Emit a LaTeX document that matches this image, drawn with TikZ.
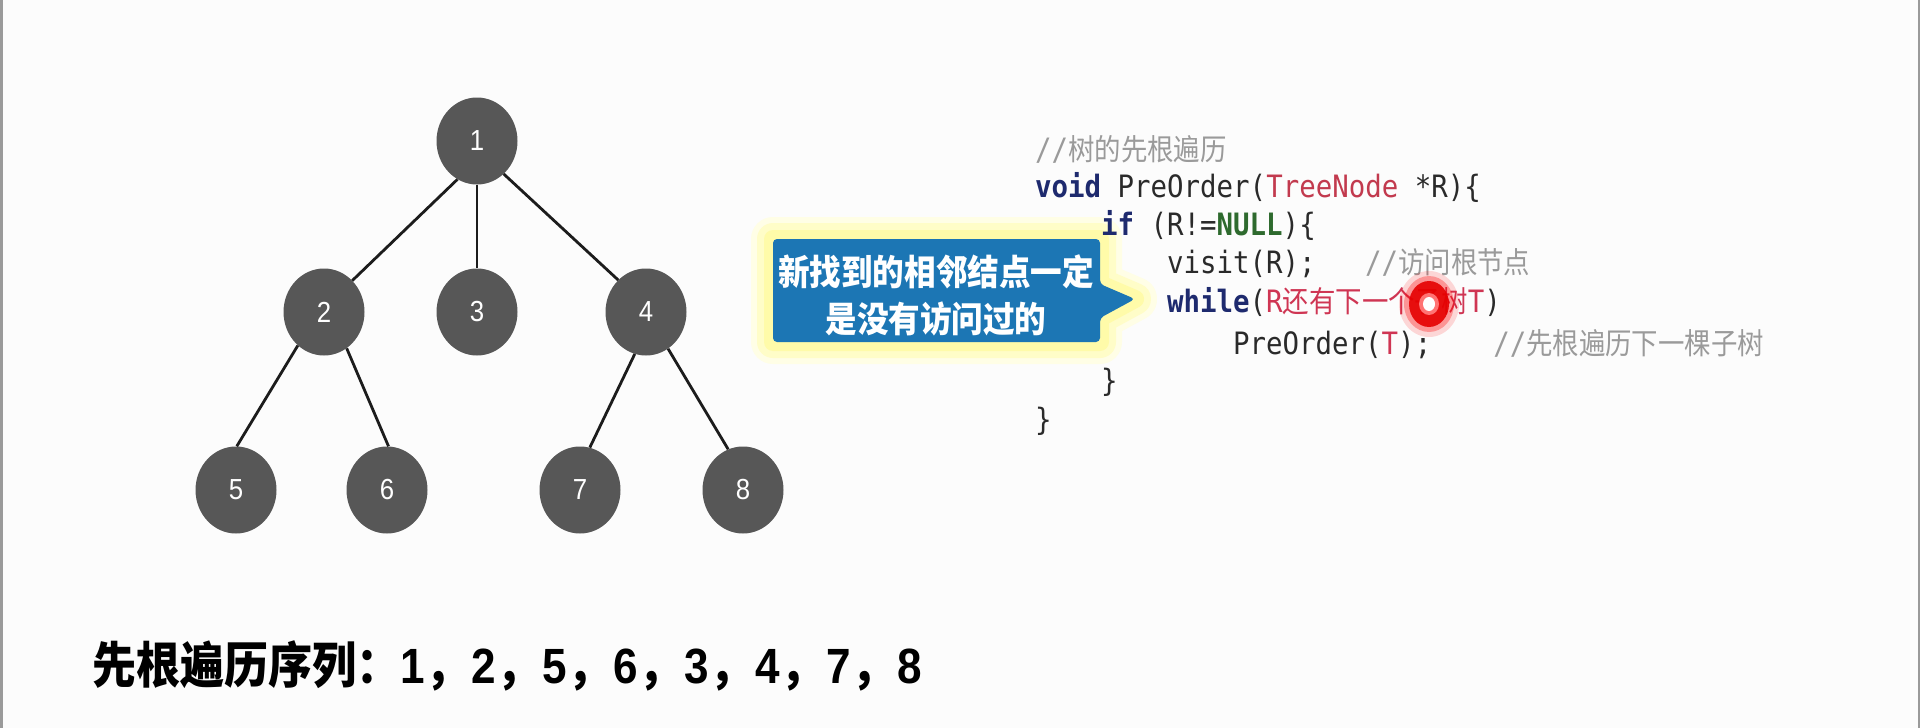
\documentclass[tikz,border=0pt]{standalone}
\usepackage{fontspec}
\usetikzlibrary{shapes.geometric}
\newfontfamily\codefont{DejaVu Sans Mono}[FakeStretch=0.89]
\newfontfamily\cjkfont{Noto Sans CJK SC}[FakeStretch=0.89]
\newfontfamily\digfont{Liberation Sans}[FakeStretch=0.89]
\newfontfamily\digbold{Liberation Sans}[FakeStretch=0.89, UprightFont={* Bold}]
\definecolor{bgc}{HTML}{FCFCFC}
\definecolor{framec}{HTML}{9A9A9A}
\definecolor{nodegray}{HTML}{575757}
\definecolor{edgec}{HTML}{1C1C1C}
\definecolor{calloutc}{HTML}{1C76B4}
\definecolor{glowa}{HTML}{FFFEE6}
\definecolor{glowb}{HTML}{FFFDC8}
\definecolor{glowd}{HTML}{FFFB9C}
\definecolor{kwc}{HTML}{1E2A6E}
\definecolor{typc}{HTML}{C23A4E}
\definecolor{nulc}{HTML}{2E6A2E}
\definecolor{redc}{HTML}{CF3553}
\definecolor{cmtc}{HTML}{9A9A9A}
\definecolor{codetext}{HTML}{2A2A2A}
\newcommand\zh[1]{{\cjkfont\fontsize{29.7}{38}\selectfont #1}}
\newcommand\kw[1]{{\bfseries\color{kwc}#1}}
\newcommand\sqd[1]{{\digbold #1}}
\newcommand\sqc{{\cjkfont\bfseries ，}\kern2.5pt}
\begin{document}
\begin{tikzpicture}[x=1pt,y=-1pt,
  treenode/.style={ellipse, minimum width=81pt, minimum height=87pt, inner sep=0pt,
    fill=nodegray, text=white, font=\digfont\fontsize{29}{29}\selectfont},
  edge/.style={draw=edgec, line width=2.8pt},
  codeline/.style={anchor=base west, inner sep=0pt, text=codetext,
    font=\codefont\fontsize{30.8}{38}\selectfont}]
\useasboundingbox (0,0) rectangle (1920,728);
\fill[bgc] (0,0) rectangle (1920,728);
\fill[framec] (0,0) rectangle (2.5,728);
\fill[framec] (1917.5,0) rectangle (1920,728);

% tree
\node[treenode] (n1) at (477,141) {1};
\node[treenode] (n2) at (324,312) {2};
\node[treenode] (n3) at (477,312) {3};
\node[treenode] (n4) at (646,312) {4};
\node[treenode] (n5) at (236,490) {5};
\node[treenode] (n6) at (387,490) {6};
\node[treenode] (n7) at (580,490) {7};
\node[treenode] (n8) at (743,490) {8};
\draw[edge] (n1.243) -- (n2.48);
\draw[edge] (n1.south) -- (n3.north);
\draw[edge] (n1.309) -- (n4.131);
\draw[edge] (n2.232) -- (n5.89);
\draw[edge] (n2.302) -- (n6.88);
\draw[edge] (n4.255) -- (n7.77);
\draw[edge] (n4.301) -- (n8.110);

% callout
\def\calloutpath{(773,239) -- (1100,239) -- (1100,284) -- (1135,299) -- (1100,318) -- (1100,342) -- (773,342) -- cycle}
\draw[glowa, line width=44pt, line join=round] \calloutpath;
\draw[glowb, line width=32pt, line join=round] \calloutpath;
\draw[glowd, line width=18pt, line join=round, opacity=0.7] \calloutpath;
\fill[calloutc, rounded corners=4pt] \calloutpath;
\node[align=center, text=white, inner sep=0pt,
  font=\cjkfont\bfseries\fontsize{35.5}{47}\selectfont] (tip) at (936,295)
  {新找到的相邻结点一定\\是没有访问过的};

% code
\node[codeline] (c0) at (1035,160) {\color{cmtc}//\zh{树的先根遍历}};
\node[codeline] (c1) at (1035,197) {\kw{void} PreOrder({\color{typc}TreeNode} *R)\{};
\node[codeline] (c2) at (1101,235) {\kw{if} (R!={\bfseries\color{nulc}NULL})\{};
\node[codeline] (c3) at (1167,273) {visit(R);\hspace*{49.5pt}{\color{cmtc}//\zh{访问根节点}}};
\node[codeline] (c4) at (1167,312) {\kw{while}({\color{redc}R\zh{还有下一个子树}T})};
\node[codeline] (c5) at (1233,354) {PreOrder({\color{redc}T});\hspace*{62pt}{\color{cmtc}//\zh{先根遍历下一棵子树}}};
\node[codeline] (c6) at (1101,391) {\}};
\node[codeline] (c7) at (1035,430) {\}};

% red cursor mark
\fill[red, opacity=0.15] (1429,304) ellipse [x radius=30pt, y radius=33pt];
\fill[red, opacity=0.3] (1429,304) ellipse [x radius=25pt, y radius=28pt];
\fill[red!90!black, opacity=0.9] (1429,304) ellipse [x radius=20pt, y radius=23pt];
\fill[red!55!white] (1429,304) ellipse [x radius=10pt, y radius=11pt];
\fill[white] (1429,304) ellipse [x radius=6pt, y radius=7pt];

% sequence
\node[anchor=west, inner sep=0pt, font=\fontsize{49.5}{50}\selectfont] (seq) at (92,666)
  {{\cjkfont\bfseries 先根遍历序列：}\sqd{1}\sqc\sqd{2}\sqc\sqd{5}\sqc\sqd{6}\sqc\sqd{3}\sqc\sqd{4}\sqc\sqd{7}\sqc\sqd{8}};
\end{tikzpicture}
\end{document}
